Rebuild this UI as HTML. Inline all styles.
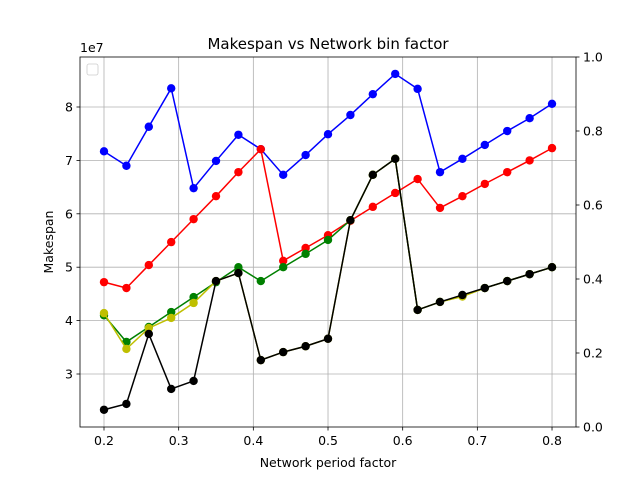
<!DOCTYPE html>
<html><head><meta charset="utf-8"><style>
body{margin:0;background:#fff;font-family:"DejaVu Sans","Liberation Sans",sans-serif}
svg text{font-family:"DejaVu Sans","Liberation Sans",sans-serif;fill:#000}
</style></head><body>
<svg id="chart" width="640" height="480" viewBox="0 0 640 480">
<rect x="0" y="0" width="640" height="480" fill="#fff"/>
<g id="grid"></g><g id="series"></g><g id="axes"></g>
</svg>
<script>
const xValues=[0.2,0.23,0.26,0.29,0.32,0.35,0.38,0.41,0.44,0.47,0.5,0.53,0.56,0.59,0.62,0.65,0.68,0.71,0.74,0.77,0.8];
const blueSeries=[7.17,6.9,7.63,8.35,6.48,6.99,7.48,7.21,6.73,7.1,7.49,7.85,8.24,8.62,8.34,6.78,7.03,7.29,7.55,7.79,8.06];
const redSeries=[4.72,4.61,5.04,5.47,5.9,6.33,6.78,7.21,5.12,5.36,5.6,5.87,6.13,6.39,6.65,6.11,6.33,6.56,6.78,7.0,7.23];
const greenSeries=[4.1,3.6,3.88,4.16,4.44,4.72,5.0,4.74,5.0,5.25,5.51,5.88,6.73,7.03,4.2,4.35,4.46,4.61,4.74,4.87,5.0];
const yellowSeries=[4.14,3.47,3.86,4.05,4.33,4.74,4.89,3.26,3.41,3.52,3.66,5.88,6.73,7.03,4.2,4.35,4.45,4.61,4.74,4.87,5.0];
const blackSeries=[2.33,2.44,3.75,2.72,2.87,4.74,4.89,3.26,3.41,3.52,3.66,5.88,6.73,7.03,4.2,4.35,4.48,4.61,4.74,4.87,5.0];
const xTicks=[0.2,0.3,0.4,0.5,0.6,0.7,0.8];
const yTicks=[3,4,5,6,7,8];
const y2Ticks=[0,0.2,0.4,0.6,0.8,1.0];
const L=80,R=576,T=57,B=427;
const xs=v=>104+(v-0.2)*746.7;
const ys=v=>374-(v-3)*53.4;
const y2s=v=>B-v*(B-T);
const FS=12.5;
const NS="http://www.w3.org/2000/svg";
function mk(tag,attrs,parent,txt){const e=document.createElementNS(NS,tag);for(const k in attrs)e.setAttribute(k,attrs[k]);if(txt!==undefined)e.textContent=txt;parent.appendChild(e);return e;}
const grid=document.getElementById('grid'),ser=document.getElementById('series'),ax=document.getElementById('axes');
xTicks.forEach(t=>{const g=mk('line',{x1:xs(t),x2:xs(t),y1:T,y2:B,stroke:'#b0b0b0','stroke-width':0.8},grid);

const tk=mk('line',{x1:xs(t),x2:xs(t),y1:B,y2:B+3.5,stroke:'#000','stroke-width':0.8},ax);

const lb=mk('text',{x:xs(t),y:B+18,'font-size':FS,'text-anchor':'middle'},ax,t.toFixed(1));
});
yTicks.forEach(t=>{const g=mk('line',{x1:L,x2:R,y1:ys(t),y2:ys(t),stroke:'#b0b0b0','stroke-width':0.8},grid);

const tk=mk('line',{x1:L-3.5,x2:L,y1:ys(t),y2:ys(t),stroke:'#000','stroke-width':0.8},ax);

const lb=mk('text',{x:L-7,y:ys(t)+4.5,'font-size':FS,'text-anchor':'end'},ax,String(t));
});
y2Ticks.forEach(t=>{const tk=mk('line',{x1:R,x2:R+3.5,y1:y2s(t),y2:y2s(t),stroke:'#000','stroke-width':0.8},ax);

const lb=mk('text',{x:R+7,y:y2s(t)+4.5,'font-size':FS},ax,t.toFixed(1));
});
const all=[['blue',blueSeries,'blue'],['red',redSeries,'red'],['green',greenSeries,'green'],['yellow',yellowSeries,'#bfbf00'],['black',blackSeries,'black']];
all.forEach(([n,d,c])=>{const p=mk('polyline',{points:d.map((v,i)=>xs(xValues[i])+','+ys(v)).join(' '),fill:'none',stroke:c,'stroke-width':1.5},ser);

d.forEach((v,i)=>{const m=mk('circle',{cx:xs(xValues[i]),cy:ys(v),r:4.2,fill:c},ser);
});});
const fr=mk('rect',{x:L,y:T,width:R-L,height:B-T,fill:'none',stroke:'#000','stroke-width':0.8},ax);

const lg=mk('rect',{x:87,y:64,width:11,height:11,rx:2,fill:'#fff',stroke:'#ccc','stroke-width':0.8},ax);

const ti=mk('text',{x:328,y:49,'font-size':15,'text-anchor':'middle'},ax,'Makespan vs Network bin factor');

const xl=mk('text',{x:328,y:467,'font-size':FS,'text-anchor':'middle'},ax,'Network period factor');

const yl=mk('text',{x:0,y:0,'font-size':FS,'text-anchor':'middle',transform:'translate(53,242) rotate(-90)'},ax,'Makespan');

const ex=mk('text',{x:80,y:52,'font-size':FS},ax,'1e7');

</script>
</body></html>
